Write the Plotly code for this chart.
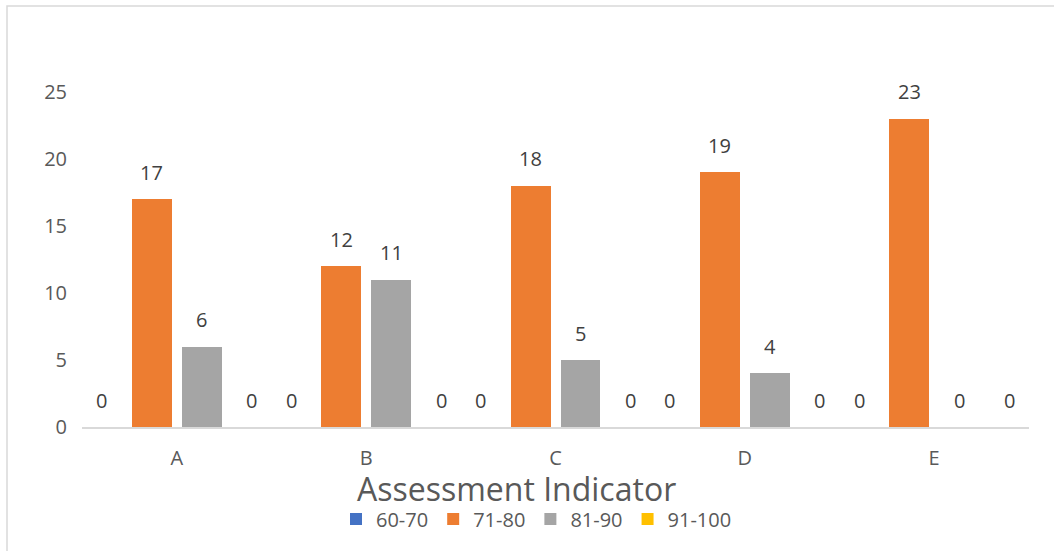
import plotly.graph_objects as go

categories = ["A", "B", "C", "D", "E"]
series_names = ["60-70", "71-80", "81-90", "91-100"]
s_60_70 = [0, 0, 0, 0, 0]
s_71_80 = [17, 12, 18, 19, 23]
s_81_90 = [6, 11, 5, 4, 0]
s_91_100 = [0, 0, 0, 0, 0]
y_ticks = [0, 5, 10, 15, 20, 25]

series_values = [s_60_70, s_71_80, s_81_90, s_91_100]
colors = ["#4472C4", "#ED7D31", "#A5A5A5", "#FFC000"]

# plot area in px
L, R, T, B = 82, 25, 92, 124
W, H = 1054, 551
pw = W - L - R
ph = H - T - B

bar_w = 40 / (pw / 5)
centers = [-75 / (pw / 5), -25 / (pw / 5), 25 / (pw / 5), 75 / (pw / 5)]

fig = go.Figure()
label_font = dict(family="Open Sans", size=20, color="#404040")
for name, vals, col, c in zip(series_names, series_values, colors, centers):
    fig.add_trace(go.Bar(
        x=categories, y=vals, name=name, marker=dict(color=col, line=dict(width=0)),
        width=bar_w, offset=c - bar_w / 2,
    ))
    for i, v in enumerate(vals):
        fig.add_annotation(x=i + c, y=v, xref="x", yref="y", text=str(v),
                           showarrow=False, yanchor="middle", yshift=27,
                           font=label_font)

px2x = lambda p: (p - L) / pw
px2y = lambda p: (H - B - p) / ph

fig.add_shape(type="rect", xref="paper", yref="paper",
              x0=px2x(7), x1=px2x(1080), y0=px2y(580), y1=px2y(6),
              line=dict(color="#d9d9d9", width=1.5), layer="below")

fig.add_annotation(x=px2x(516), y=px2y(489), xref="paper", yref="paper",
                   text="Assessment Indicator", showarrow=False,
                   xanchor="center", yanchor="middle",
                   font=dict(family="Open Sans", size=32, color="#595959"))

fig.update_layout(
    width=W, height=H,
    margin=dict(l=L, r=R, t=T, b=B),
    paper_bgcolor="white", plot_bgcolor="white",
    barmode="group", bargap=0,
    font=dict(family="Open Sans", size=20, color="#595959"),
    showlegend=True,
    legend=dict(orientation="h", x=px2x(336), y=px2y(519), xanchor="left", yanchor="middle",
                font=dict(family="Open Sans", size=20, color="#595959"),
                itemwidth=30, itemclick=False, tracegroupgap=0,
                bgcolor="rgba(0,0,0,0)"),
)
fig.update_xaxes(type="category", showline=True, linecolor="#d9d9d9", linewidth=2,
                 showgrid=False, zeroline=False, ticks="", ticklabelstandoff=12,
                 tickfont=dict(size=20, color="#595959"))
fig.update_yaxes(range=[0, 25], tickvals=y_ticks, showgrid=False, zeroline=False,
                 showline=False, ticks="", ticklabelstandoff=14,
                 tickfont=dict(size=20, color="#595959"))

fig.write_html("out.html")
